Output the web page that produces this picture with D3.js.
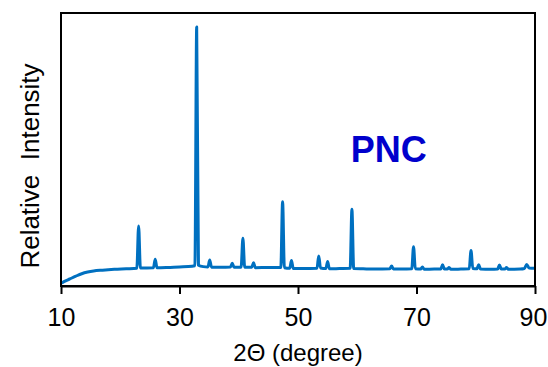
<!DOCTYPE html>
<html>
<head>
<meta charset="utf-8">
<script src="https://cdn.jsdelivr.net/npm/d3@7"></script>
<style>
  html, body { margin: 0; padding: 0; background: #fff; }
  svg { display: block; font-family: Arial, "Liberation Sans", sans-serif; }
</style>
</head>
<body>
<div id="chart"></div>
<script>
// XRD pattern (2-theta in degrees, relative intensity)
const twoTheta = [
  10.0, 10.5, 11.5, 12.5, 13.5, 14.5, 15.5, 17.0, 19.0, 21.0,
  22.8, 23.1, 23.4, 25.6, 25.9, 26.2, 28.0, 30.0, 31.5, 32.6,
  32.9, 33.2, 34.0, 34.8, 35.1, 35.4, 37.0, 38.6, 38.9, 39.2,
  40.4, 40.7, 41.0, 42.2, 42.5, 42.8, 45.0, 47.1, 47.4, 47.7,
  48.6, 48.9, 49.2, 51.0, 53.2, 53.5, 53.8, 54.7, 55.0, 55.3,
  57.0, 58.8, 59.1, 59.4, 61.0, 63.0, 65.5, 65.8, 66.1, 67.5,
  69.2, 69.5, 69.8, 70.7, 71.0, 71.3, 73.0, 74.1, 74.4, 74.7,
  75.2, 75.5, 75.8, 77.5, 78.9, 79.2, 79.5, 80.2, 80.5, 80.8,
  82.5, 83.7, 84.0, 84.3, 84.9, 85.2, 85.5, 87.5, 88.2, 88.6,
  89.0, 90.0
];
const intensity = [
  1.0, 1.6, 2.6, 3.6, 4.5, 5.1, 5.5, 5.8, 6.1, 6.3,
  6.5, 22.0, 6.6, 6.7, 9.8, 6.7, 6.8, 7.0, 7.1, 7.4,
  94.9, 7.6, 7.1, 7.0, 9.5, 6.9, 6.9, 7.0, 8.3, 6.9,
  6.9, 17.5, 6.9, 6.9, 8.5, 6.7, 6.8, 6.8, 30.9, 6.7,
  6.5, 9.3, 6.4, 6.4, 6.5, 11.0, 6.6, 6.4, 9.0, 6.3,
  6.4, 6.5, 28.1, 6.4, 6.3, 6.2, 6.3, 7.3, 6.2, 6.2,
  6.3, 14.4, 6.3, 6.2, 7.0, 6.1, 6.2, 6.2, 7.8, 6.2,
  6.2, 6.8, 6.1, 6.2, 6.3, 13.0, 6.4, 6.3, 7.8, 6.2,
  6.1, 6.2, 7.7, 6.2, 6.2, 6.8, 6.1, 6.2, 6.4, 7.9,
  6.6, 6.5
];
const xTicks = [10, 30, 50, 70, 90];
const sampleName = "PNC";

const width = 548, height = 367;
const margin = { top: 13, right: 13, bottom: 81, left: 61 };
const w = width - margin.left - margin.right;
const h = height - margin.top - margin.bottom;

const svg = d3.select('#chart').append('svg')
  .attr('width', width)
  .attr('height', height);

const g = svg.append('g')
  .attr('transform', `translate(${margin.left},${margin.top})`);

const x = d3.scaleLinear().domain([10, 90]).range([0, w]);
const y = d3.scaleLinear().domain([0, 100]).range([h, 0]);

const data = twoTheta.map((t, i) => ({ t, v: intensity[i] }));

const line = d3.line()
  .curve(d3.curveMonotoneX)
  .x(d => x(d.t))
  .y(d => y(d.v));

g.append('path')
  .datum(data)
  .attr('fill', 'none')
  .attr('stroke', '#0070C0')
  .attr('stroke-width', 3)
  .attr('stroke-linejoin', 'round')
  .attr('d', line);

// frame
g.append('rect')
  .attr('width', w).attr('height', h)
  .attr('fill', 'none')
  .attr('stroke', '#000')
  .attr('stroke-width', 2);

// x axis
const xAxis = g.append('g')
  .attr('transform', `translate(0,${h})`)
  .call(d3.axisBottom(x).tickValues(xTicks).tickSize(8).tickSizeOuter(0));
xAxis.select('.domain').attr('stroke', '#000').attr('stroke-width', 2);
xAxis.selectAll('.tick line').attr('stroke', '#000').attr('stroke-width', 2);
xAxis.selectAll('.tick text')
  .attr('fill', '#000')
  .attr('y', 40)
  .attr('dy', 0)
  .attr('x', d => d === 90 ? -2 : 0)
  .style('font-size', '25px')
  .style('font-family', 'Arial, "Liberation Sans", sans-serif');

// axis titles
svg.append('text')
  .attr('x', 298)
  .attr('y', 361)
  .attr('text-anchor', 'middle')
  .style('font-size', '24px')
  .text('2\u0398 (degree)');

svg.append('text')
  .attr('transform', 'translate(39,166) rotate(-90)')
  .attr('text-anchor', 'middle')
  .style('font-size', '26px')
  .style('white-space', 'pre')
  .text('Relative  Intensity');

// sample label
g.append('text')
  .attr('x', x(65.3))
  .attr('y', y(45.4))
  .attr('text-anchor', 'middle')
  .attr('fill', '#0000CC')
  .style('font-size', '36px')
  .style('font-weight', 'bold')
  .text(sampleName);
</script>
</body>
</html>
